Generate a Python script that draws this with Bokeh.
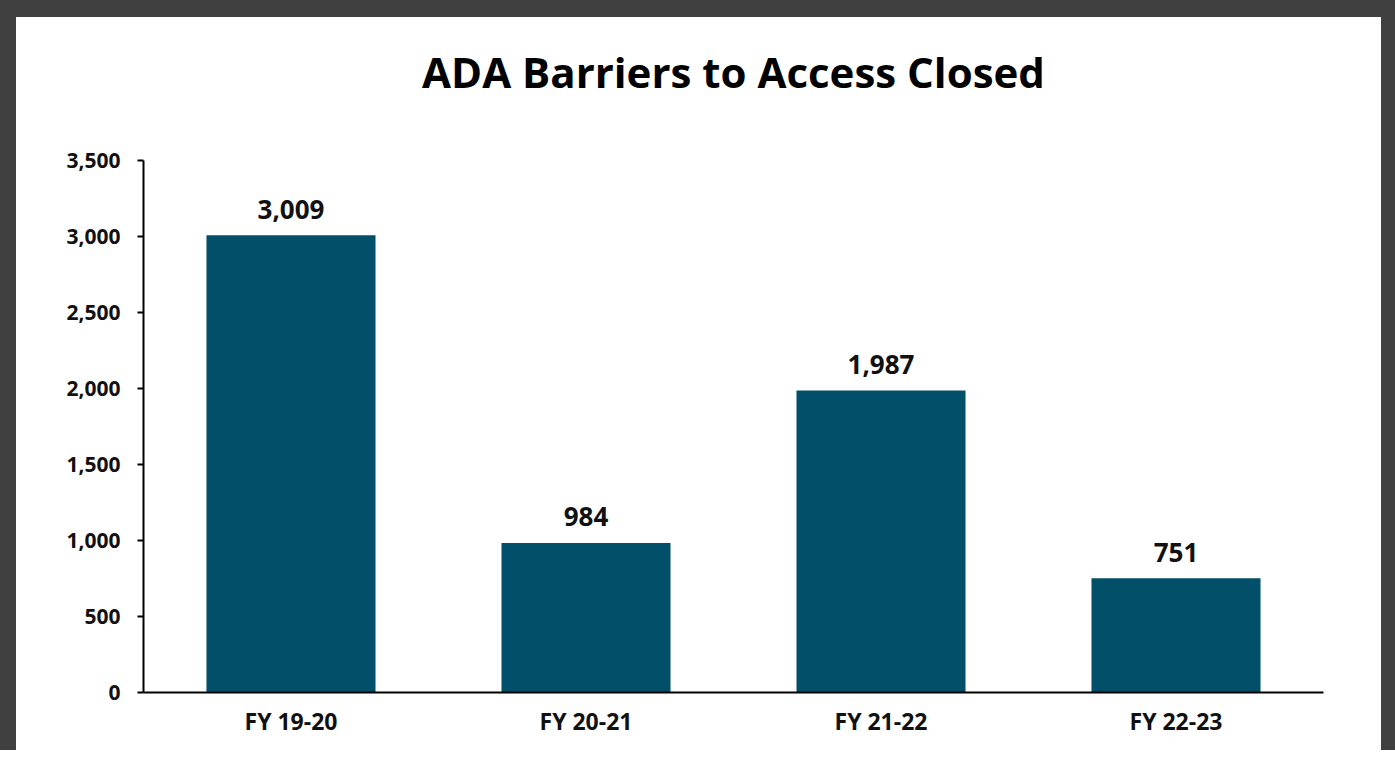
from bokeh.plotting import figure
from bokeh.layouts import column
from bokeh.models import ColumnDataSource, NumeralTickFormatter, FixedTicker, Range1d, Title
from bokeh.core.properties import value
from bokeh.embed import file_html
from bokeh.resources import INLINE

categories = ["FY 19-20", "FY 20-21", "FY 21-22", "FY 22-23"]
values = [3009, 984, 1987, 751]
value_labels = ["3,009", "984", "1,987", "751"]
y_ticks = [0, 500, 1000, 1500, 2000, 2500, 3000, 3500]
title_text = "ADA Barriers to Access Closed"

FONT = "Open Sans"
BAR = "#024F6A"

src = ColumnDataSource(dict(cat=categories, val=values, lab=value_labels))

p = figure(x_range=categories, y_range=Range1d(0, 3500), width=1365, height=733,
           output_backend="svg", toolbar_location=None, title=None,
           min_border_left=127, min_border_right=58, min_border_top=143, min_border_bottom=58,
           styles={"background-color": "white"})
p.outline_line_color = None
p.xgrid.grid_line_color = None
p.ygrid.grid_line_color = None
p.x_range.range_padding = 0
p.background_fill_color = "white"
p.border_fill_color = "white"

# spacer (closest to the frame), then the real title above it
p.add_layout(Title(text=" ", text_font_size="1px", standoff=41), "above")
p.add_layout(Title(text=title_text, align="center", text_font=FONT, text_font_style="bold",
                   text_font_size="42px", text_color="#000000", standoff=34), "above")

p.vbar(x="cat", top="val", width=0.573, source=src, color=BAR, line_color=None)

p.text(x="cat", y="val", text="lab", source=src, text_align="center", text_baseline="middle",
       y_offset=-26, text_font=value(FONT), text_font_style="bold", text_font_size="26px",
       text_color="#111111")

for ax in (p.xaxis[0], p.yaxis[0]):
    ax.axis_line_color = "black"
    ax.axis_line_width = 2
    ax.major_label_text_font = FONT
    ax.major_label_text_font_style = "bold"
    ax.major_label_text_color = "#111111"
    ax.minor_tick_line_color = None

p.xaxis.major_tick_line_color = None
p.xaxis.major_label_text_font_size = "23px"
p.xaxis.major_label_standoff = 6

p.yaxis.ticker = FixedTicker(ticks=y_ticks)
p.yaxis.formatter = NumeralTickFormatter(format="0,0")
p.yaxis.major_tick_in = 0
p.yaxis.major_tick_out = 6
p.yaxis.major_tick_line_width = 2
p.yaxis.major_tick_line_color = "black"
p.yaxis.major_label_text_font_size = "21px"
p.yaxis.major_label_standoff = 17

layout = column(p, styles={"background-color": "#404040", "padding": "17px 14px 0px 16px"})

open("out.html", "w").write(file_html(layout, INLINE))
